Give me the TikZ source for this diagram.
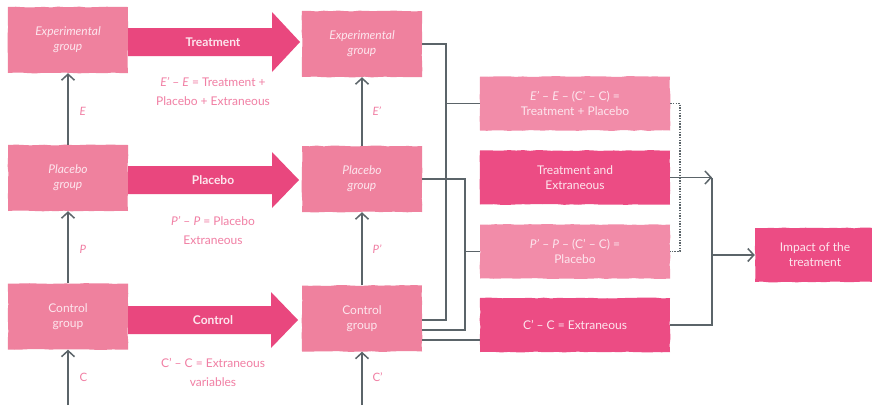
\documentclass[tikz,border=0pt]{standalone}
\usepackage{fontspec}
\setmainfont{Lato}
\usetikzlibrary{arrows.meta,calc,decorations.pathmorphing}
\definecolor{lpink}{HTML}{EF819E}
\definecolor{rpink}{HTML}{F28CA9}
\definecolor{dpink}{HTML}{EC4C84}
\definecolor{apink}{HTML}{E9477E}
\definecolor{tpink}{HTML}{F17FA4}
\definecolor{lgray}{HTML}{5B6469}
\definecolor{boxtxt}{HTML}{FDE6EE}
\tikzset{
  rough/.style={decorate, decoration={random steps, segment length=7pt, amplitude=0.45pt}},
  grp/.style={rough, fill=lpink, text=boxtxt, minimum width=120pt, minimum height=66pt,
    align=center, inner sep=0pt, font=\fontsize{12}{15}\selectfont},
  lres/.style={rough, fill=rpink, text=boxtxt, minimum width=190pt, minimum height=54pt,
    align=center, inner sep=0pt, font=\fontsize{12}{15}\selectfont},
  dres/.style={lres, fill=dpink},
  conn/.style={draw=lgray, line width=1.4pt},
  dotconn/.style={draw=lgray, line width=1.4pt, dash pattern=on 1.4pt off 1.3pt},
  tipped/.style={-{Straight Barb[length=6pt,width=13pt,line width=1.5pt]}},
  eqtext/.style={text=tpink, align=center, font=\fontsize{12}{19}\selectfont},
  vlab/.style={text=tpink, font=\fontsize{11.5}{12}\selectfont, anchor=west},
  arrlab/.style={text=boxtxt, font=\bfseries\fontsize{12}{14}\selectfont},
  bigarrow/.style={fill=apink}
}
\begin{document}
\begin{tikzpicture}[x=1pt,y=-1pt]
\useasboundingbox[fill=white] (0,0) rectangle (872,405);

% left column
\node[grp] (lE) at (68,40) {\itshape Experimental\\\itshape group};
\node[grp] (lP) at (68,178) {\itshape Placebo\\\itshape group};
\node[grp] (lC) at (68,316.5) {Control\\group};
% middle column
\node[grp] (mE) at (362,44) {\itshape Experimental\\\itshape group};
\node[grp] (mP) at (362,179) {\itshape Placebo\\\itshape group};
\node[grp] (mC) at (362,318.5) {Control\\group};

% big arrows
\fill[bigarrow] (128,28) -- (272,28) -- (272,12) -- (300,42) -- (272,72) -- (272,56) -- (128,56) -- cycle;
\node[arrlab] (tA) at (213,42) {Treatment};
\fill[bigarrow] (128,166) -- (272,166) -- (272,152) -- (299,180) -- (272,208) -- (272,194) -- (128,194) -- cycle;
\node[arrlab] (tP) at (213,180) {Placebo};
\fill[bigarrow] (128,306) -- (271,306) -- (271,292) -- (298,320) -- (271,348) -- (271,334) -- (128,334) -- cycle;
\node[arrlab] (tC) at (213,320) {Control};

% equations under arrows
\node[eqtext] (eqE) at (213,92) {\textit{E’} -- \textit{E} = Treatment +\\Placebo + Extraneous};
\node[eqtext] (eqP) at (213,231) {\textit{P’} -- \textit{P} = Placebo\\Extraneous};
\node[eqtext] (eqC) at (213,372) {C’ -- C = Extraneous\\variables};

% vertical arrows
\coordinate (lbot) at (68,405);
\coordinate (mbot) at (362,405);
\draw[conn,tipped] (lbot) -- (lC.south);
\draw[conn,tipped] (lC.north) -- (lP.south);
\draw[conn,tipped] (lP.north) -- (lE.south);
\draw[conn,tipped] (mbot) -- (mC.south);
\draw[conn,tipped] (mC.north) -- (mP.south);
\draw[conn,tipped] (mP.north) -- (mE.south);
\node[vlab] (labE) at (76,111) {\itshape E};
\node[vlab] (labP) at (76,249) {\itshape P};
\node[vlab] (labC) at (76,377) {C};
\node[vlab] (labE2) at (369,111) {\itshape E’};
\node[vlab] (labP2) at (369,249) {\itshape P’};
\node[vlab] (labC2) at (369,377) {C’};

% result boxes
\node[lres] (r1) at (575,103.5) {\textit{E’} -- \textit{E} -- (C’ -- C) =\\Treatment + Placebo};
\node[dres] (r2) at (575,177.5) {Treatment and\\Extraneous};
\node[lres] (r3) at (575,251.5) {\textit{P’} -- \textit{P} -- (C’ -- C) =\\Placebo};
\node[dres] (r4) at (575,325) {C’ -- C = Extraneous};
\node[dres, minimum width=120pt] (imp) at (815,255) {Impact of the\\treatment};

% connectors from middle column
\coordinate (j1) at (446,44);
\coordinate (j1b) at (446,320);
\coordinate (j1m) at (446,103.5);
\draw[conn] (mE.east) -- (j1) -- (j1b) -- ($(mC.east)+(0,1.5)$);
\draw[conn] (j1m) -- (r1.west);
\coordinate (j2) at (465,179);
\coordinate (j2b) at (465,330);
\coordinate (j2m) at (465,251.5);
\draw[conn] (mP.east) -- (j2) -- (j2b) -- ($(mC.east)+(0,11.5)$);
\draw[conn] (j2m) -- (r3.west);
\draw[conn] ($(mC.east)+(0,21.5)$) -- ($(r4.west)+(0,15)$);

% right side connectors
\coordinate (d1) at (680,103.5);
\coordinate (d2) at (680,251.5);
\draw[dotconn] (r1.east) -- (d1) -- (d2) -- (r3.east);
\coordinate (k1) at (712,177.5);
\coordinate (k2) at (712,325);
\coordinate (k3) at (712,255);
\draw[conn,tipped] (r2.east) -- (k1);
\draw[conn] (r4.east) -- (k2) -- (k1);
\draw[conn,tipped] (k3) -- (imp.west);
\end{tikzpicture}
\end{document}
